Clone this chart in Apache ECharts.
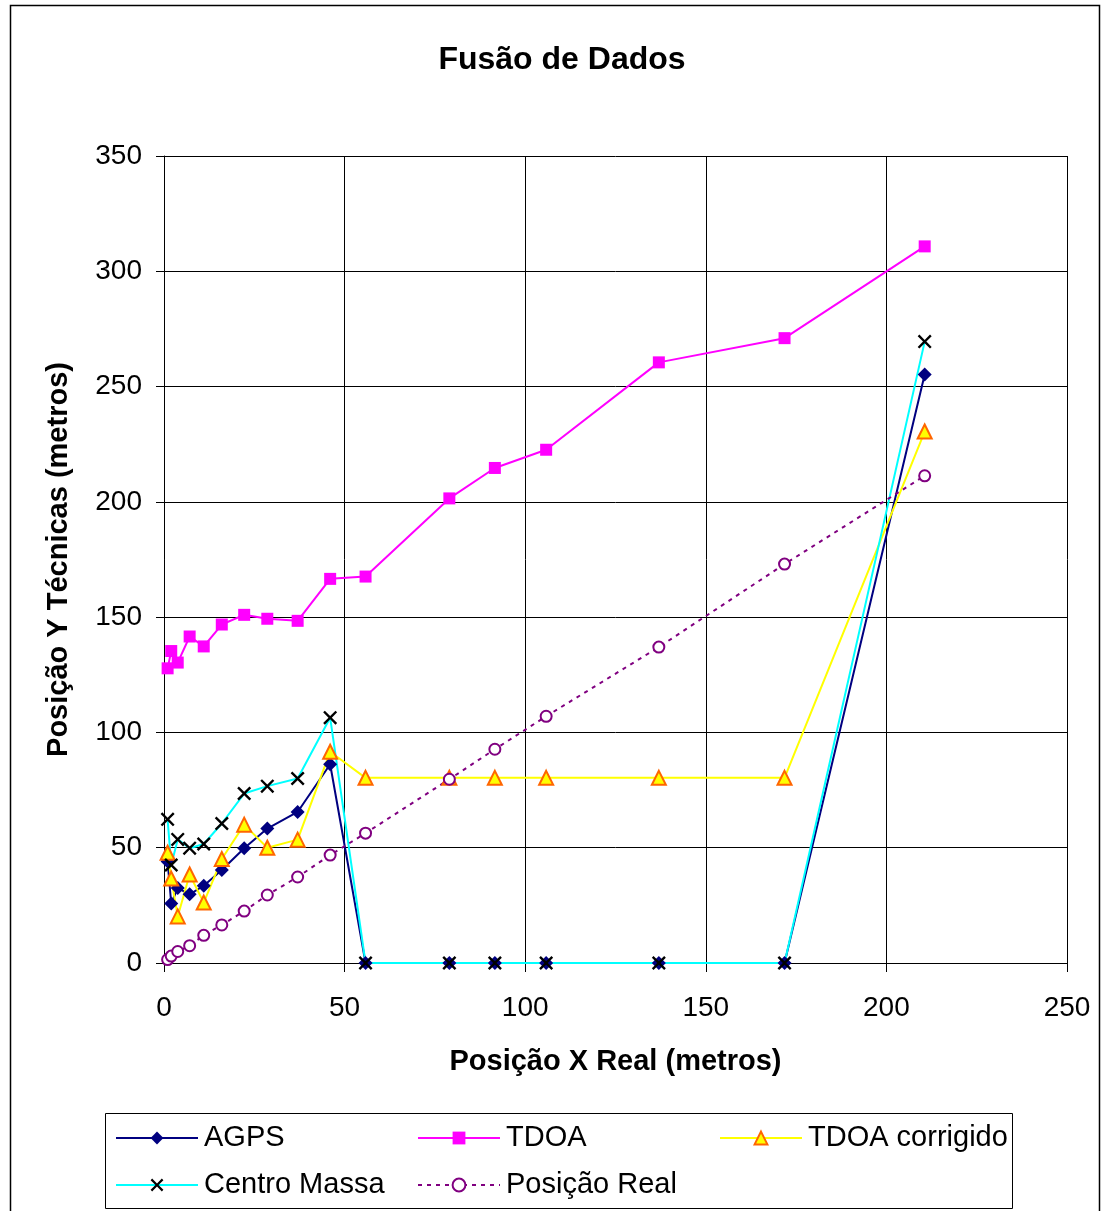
<!DOCTYPE html>
<html>
<head>
<meta charset="utf-8">
<script src="https://cdn.jsdelivr.net/npm/echarts@6/dist/echarts.min.js"></script>
<style>
html,body{margin:0;padding:0;background:#fff;}
#chart{width:1105px;height:1211px;}
</style>
</head>
<body>
<div id="chart"></div>
<script>
// Shared X values (Posição X Real, metros)
const xReal = [1, 2, 3.8, 7.1, 11, 16, 22.2, 28.6, 37, 46, 55.8, 79, 91.6, 105.8, 137, 171.8, 210.6];
// Series Y values
const agps = [44, 25.8, 32.5, 29.8, 33.5, 40.3, 49.8, 58.3, 65.5, 86.2, 0, 0, 0, 0, 0, 0, 255.2];
const tdoa = [127.8, 135.3, 130.3, 141.6, 137.3, 146.8, 151, 149.3, 148.4, 166.6, 167.6, 201.5, 214.7, 222.6, 260.5, 271, 310.8];
const tdoaCorrigido = [47.8, 36.6, 20.2, 38.4, 26.2, 45.1, 60, 50, 53.5, 91.6, 80.3, 80.3, 80.3, 80.3, 80.3, 80.3, 230.5];
const centroMassa = [62.3, 42.5, 53.6, 49.8, 51.6, 60.5, 73.5, 76.7, 80, 106.4, 0, 0, 0, 0, 0, 0, 269.5];
const posicaoReal = [1.5, 3, 5, 7.5, 12, 16.5, 22.5, 29.5, 37.3, 46.8, 56.3, 79.7, 92.7, 107, 137, 173, 211.3];
const seriesNames = ['AGPS', 'TDOA', 'TDOA corrigido', 'Centro Massa', 'Posição Real'];
const chartTitle = 'Fusão de Dados';
const xTitle = 'Posição X Real (metros)';
const yTitle = 'Posição Y Técnicas (metros)';

const FONT = '"Liberation Sans", Arial, sans-serif';
const pair = arr => xReal.map((x, i) => [x, arr[i]]);
const xPath = 'path://M1.2,0 L5,3.8 L8.8,0 L10,1.2 L6.2,5 L10,8.8 L8.8,10 L5,6.2 L1.2,10 L0,8.8 L3.8,5 L0,1.2 Z';

const chart = echarts.init(document.getElementById('chart'), null, {renderer: 'canvas'});

const legendBase = {
  orient: 'horizontal', itemWidth: 82, itemHeight: 16, padding: 0, selectedMode: false,
  textStyle: {fontSize: 29, fontFamily: FONT, color: '#000', lineHeight: 30, padding: [0, 0, 0, 1]}
};
const legendPos = [[115, 1123], [417, 1123], [719, 1123], [115, 1170], [417, 1170]];

const option = {
  animation: false,
  backgroundColor: '#fff',
  title: {
    text: chartTitle, left: 562, top: 44, textAlign: 'center', padding: 0,
    textStyle: {fontSize: 32, fontWeight: 'bold', fontFamily: FONT, color: '#000'}
  },
  grid: {left: 164, right: 38, top: 156, bottom: 248},
  xAxis: {
    type: 'value', min: 0, max: 250, interval: 50,
    name: xTitle, nameLocation: 'middle', nameGap: 84,
    nameTextStyle: {fontSize: 29, fontWeight: 'bold', fontFamily: FONT, color: '#000'},
    axisLine: {show: true, onZero: false, lineStyle: {color: '#000', width: 1}},
    axisTick: {show: true, length: 9, lineStyle: {color: '#000'}},
    axisLabel: {fontSize: 28, fontFamily: FONT, color: '#000', margin: 31},
    splitLine: {show: true, lineStyle: {color: '#000', width: 1}}
  },
  yAxis: {
    type: 'value', min: 0, max: 350, interval: 50,
    name: yTitle, nameLocation: 'middle', nameGap: 91, nameRotate: 90,
    nameTextStyle: {fontSize: 29, fontWeight: 'bold', fontFamily: FONT, color: '#000'},
    axisLine: {show: true, lineStyle: {color: '#000', width: 1}},
    axisTick: {show: true, length: 8, lineStyle: {color: '#000'}},
    axisLabel: {fontSize: 28, fontFamily: FONT, color: '#000', margin: 22, padding: [4, 0, 0, 0]},
    splitLine: {show: true, lineStyle: {color: '#000', width: 1}}
  },
  legend: seriesNames.map((n, i) => Object.assign({}, legendBase, {data: [n], left: legendPos[i][0], top: legendPos[i][1]})),
  graphic: [
    {type: 'rect', silent: true, z: -1, shape: {x: 10.5, y: 5.5, width: 1089, height: 1215},
     style: {fill: 'none', stroke: '#000', lineWidth: 1.5}},
    {type: 'rect', silent: true, shape: {x: 105.5, y: 1113.5, width: 907, height: 95},
     style: {fill: 'none', stroke: '#000', lineWidth: 1}}
  ],
  series: [
    {
      name: seriesNames[0], type: 'line', data: pair(agps),
      symbol: 'diamond', symbolSize: 14,
      itemStyle: {color: '#000080'}, lineStyle: {color: '#000080', width: 2}
    },
    {
      name: seriesNames[1], type: 'line', data: pair(tdoa),
      symbol: 'rect', symbolSize: 12,
      itemStyle: {color: '#FF00FF'}, lineStyle: {color: '#FF00FF', width: 2}
    },
    {
      name: seriesNames[2], type: 'line', data: pair(tdoaCorrigido),
      symbol: 'triangle', symbolSize: 14,
      itemStyle: {color: '#FFFF00', borderColor: '#FF6600', borderWidth: 2},
      lineStyle: {color: '#FFFF00', width: 2}
    },
    {
      name: seriesNames[3], type: 'line', data: pair(centroMassa),
      symbol: xPath, symbolSize: 14,
      itemStyle: {color: '#000'}, lineStyle: {color: '#00FFFF', width: 2}
    },
    {
      name: seriesNames[4], type: 'line', data: pair(posicaoReal),
      symbol: 'emptyCircle', symbolSize: 11,
      itemStyle: {color: '#800080', borderColor: '#800080', borderWidth: 1.5},
      lineStyle: {color: '#800080', width: 2, type: [4, 5]}
    }
  ]
};
chart.setOption(option);
</script>
</body>
</html>
